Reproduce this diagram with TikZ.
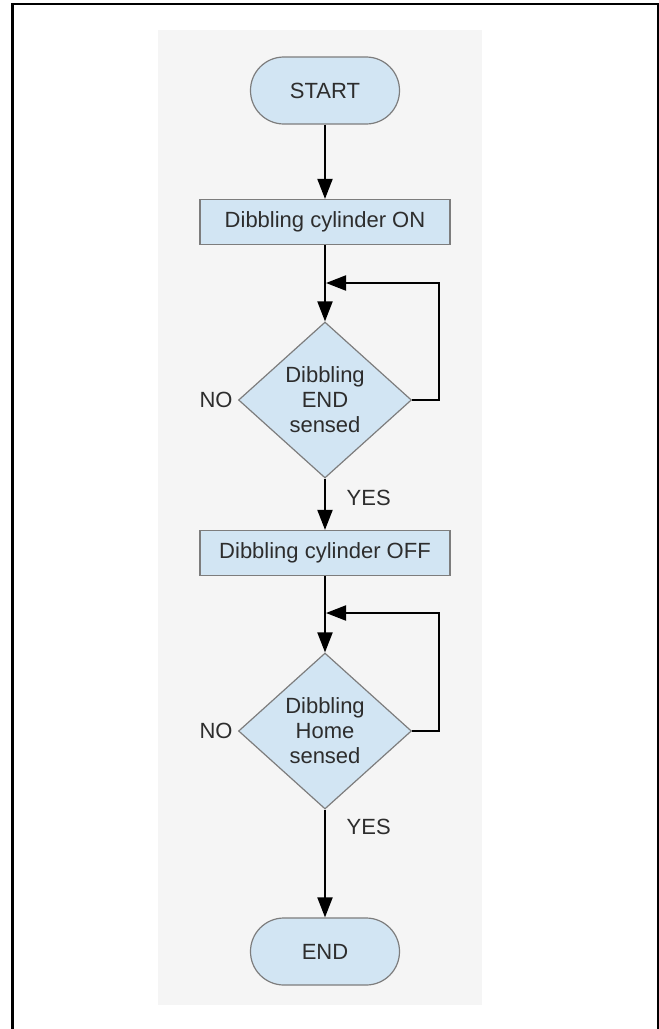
\documentclass[tikz,border=0pt]{standalone}
\usepackage{fontspec}
\setmainfont{Liberation Sans}
\usetikzlibrary{shapes.geometric,arrows.meta}
\definecolor{boxfill}{RGB}{210,229,243}
\definecolor{boxline}{RGB}{125,125,125}
\definecolor{panel}{RGB}{245,245,245}
\definecolor{ink}{RGB}{45,45,45}
\tikzset{
  txt/.style={text=ink,font=\fontsize{11}{12.5}\selectfont},
  term/.style={txt,draw=boxline,fill=boxfill,line width=0.6pt,rounded corners=16.7pt,
    minimum width=74.5pt,minimum height=33.5pt},
  proc/.style={txt,draw=boxline,fill=boxfill,line width=0.6pt,
    minimum width=125pt,minimum height=22.5pt},
  cond/.style={txt,diamond,draw=boxline,fill=boxfill,line width=0.6pt,aspect=1.1,
    inner sep=0pt,minimum width=86.5pt,minimum height=78pt,align=center},
  flow/.style={-{Triangle[length=10pt,width=7.5pt]},line width=1pt,black}
}
\begin{document}
\begin{tikzpicture}[x=0.5pt,y=-0.5pt]
\useasboundingbox (0,0) rectangle (659,1029);
\fill[panel] (158,30) rectangle (482,1005);
\draw[line width=1.2pt] (12.5,1029) -- (12.5,4) -- (658,4) -- (658,1029);
% boxes
\node[term] (start) at (325,90.5) {START};
\node[proc] (on) at (325,222) {Dibbling cylinder ON};
\node[cond] (dec1) at (325,400) {Dibbling\\END\\sensed};
\node[proc] (off) at (325,553) {Dibbling cylinder OFF};
\node[cond] (dec2) at (325,731) {Dibbling\\Home\\sensed};
\node[term] (end) at (325,951.5) {END};
\coordinate (j1) at (326,283);
\coordinate (j2) at (326,613);
% labels
\node[txt,left,inner sep=2.5pt] (no1) at (dec1.west) {NO};
\node[txt,left,inner sep=2.5pt] (no2) at (dec2.west) {NO};
% arrows
\draw[flow] (start) -- (on);
\draw[flow] (on) -- (dec1);
\draw[flow] (dec1.east) -- ++(27,0) |- (j1);
\draw[flow] (dec1) -- node[txt,right,pos=0.38,xshift=7pt] (yes1) {YES} (off);
\draw[flow] (off) -- (dec2);
\draw[flow] (dec2.east) -- ++(27,0) |- (j2);
\draw[flow] (dec2) -- node[txt,right,pos=0.16,xshift=7pt] (yes2) {YES} (end);
\end{tikzpicture}
\end{document}
